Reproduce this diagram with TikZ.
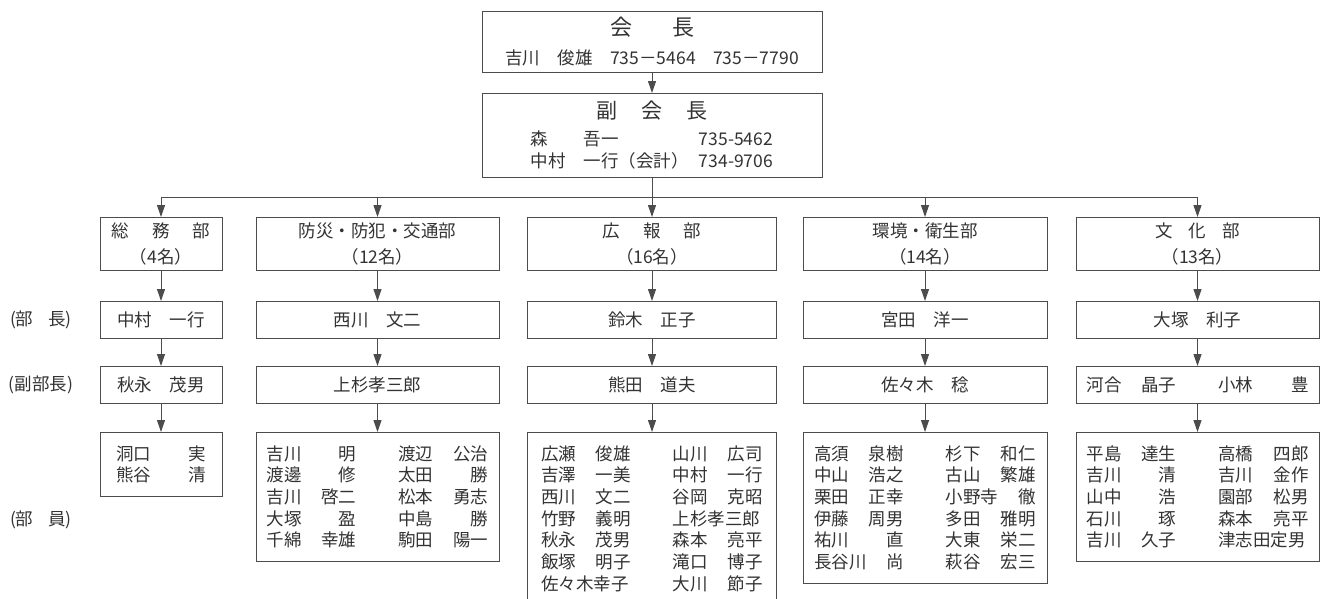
\documentclass[tikz,border=0pt]{standalone}
\usepackage{fontspec}
\setmainfont{Noto Sans CJK JP}
\usetikzlibrary{arrows.meta}
\newcommand\nm[2]{\makebox[90pt][l]{#1\hfill#2}}
\newcommand\gp{\hspace{42pt}}
\begin{document}
\begin{tikzpicture}[x=1pt,y=-1pt,
  box/.style={draw=black!70, line width=1pt, inner sep=0pt, anchor=north, align=center, text=black!80, font=\fontsize{17.5}{26}\selectfont},
  mem/.style={box, align=left, font=\fontsize{17.5}{21.7}\selectfont},
  conn/.style={draw=black!70, line width=1pt},
  arr/.style={conn, -{Triangle[length=12pt,width=8pt]}},
  lbl/.style={text=black!80, font=\fontsize{17.5}{21}\selectfont, inner sep=0pt}
]
\useasboundingbox (0,0) rectangle (1325,598);
\fill[white] (0,0) rectangle (1325,598);

% top
\node[box, minimum width=340, minimum height=61, font=\fontsize{17.5}{29}\selectfont] (pres) at (652,11)
  {{\fontsize{22}{29}\selectfont 会\hspace{40pt}長}\\吉川　俊雄　735－5464　735－7790};
\node[box, minimum width=340, minimum height=84, font=\fontsize{17.5}{22}\selectfont] (vp) at (652,93)
  {{\fontsize{21}{22}\selectfont 副\hspace{24pt}会\hspace{24pt}長}\\[5pt]
   \makebox[53pt][l]{森}\makebox[115pt][l]{吾一}735-5462\\
   \makebox[53pt][l]{中村}\makebox[115pt][l]{一行（会計）}734-9706};

\coordinate (bus) at (652,197);

% departments
\node[box, minimum width=122, minimum height=53] (d1) at (161,217) {総\hspace{23pt}務\hspace{23pt}部\\（4名）};
\node[box, minimum width=243, minimum height=53] (d2) at (377.5,217) {防災・防犯・交通部\\（12名）};
\node[box, minimum width=249, minimum height=53] (d3) at (652,217) {広\hspace{23pt}報\hspace{23pt}部\\（16名）};
\node[box, minimum width=244, minimum height=53] (d4) at (925,217) {環境・衛生部\\（14名）};
\node[box, minimum width=243, minimum height=53] (d5) at (1197.5,217) {文\hspace{16pt}化\hspace{16pt}部\\（13名）};

% heads
\node[box, minimum width=122, minimum height=37] (h1) at (161,301) {中村　一行};
\node[box, minimum width=243, minimum height=37] (h2) at (377.5,301) {西川　文二};
\node[box, minimum width=249, minimum height=37] (h3) at (652,301) {鈴木　正子};
\node[box, minimum width=244, minimum height=37] (h4) at (925,301) {宮田　洋一};
\node[box, minimum width=243, minimum height=37] (h5) at (1197.5,301) {大塚　利子};

% vice heads
\node[box, minimum width=122, minimum height=37] (v1) at (161,366) {秋永　茂男};
\node[box, minimum width=243, minimum height=37] (v2) at (377.5,366) {上杉孝三郎};
\node[box, minimum width=249, minimum height=37] (v3) at (652,366) {熊田　道夫};
\node[box, minimum width=244, minimum height=37] (v4) at (925,366) {佐々木　稔};
\node[box, minimum width=243, minimum height=37] (v5) at (1197.5,366) {\nm{河合}{晶子}\gp\nm{小林}{豊}};

% members
\node[mem, minimum width=122, minimum height=63.7] (m1) at (161,432)
  {\nm{洞口}{実}\\\nm{熊谷}{清}};
\node[mem, minimum width=243, minimum height=128.8] (m2) at (377.5,432)
  {\nm{吉川}{明}\gp\nm{渡辺}{公治}\\
   \nm{渡邊}{修}\gp\nm{太田}{勝}\\
   \nm{吉川}{啓二}\gp\nm{松本}{勇志}\\
   \nm{大塚}{盈}\gp\nm{中島}{勝}\\
   \nm{千綿}{幸雄}\gp\nm{駒田}{陽一}};
\node[mem, minimum width=249, minimum height=172.2] (m3) at (652,432)
  {\nm{広瀬}{俊雄}\gp\nm{山川}{広司}\\
   \nm{吉澤}{一美}\gp\nm{中村}{一行}\\
   \nm{西川}{文二}\gp\nm{谷岡}{克昭}\\
   \nm{竹野}{義明}\gp\nm{上杉孝三郎}{}\\
   \nm{秋永}{茂男}\gp\nm{森本}{亮平}\\
   \nm{飯塚}{明子}\gp\nm{滝口}{博子}\\
   \nm{佐々木幸子}{}\gp\nm{大川}{節子}};
\node[mem, minimum width=244, minimum height=150.5] (m4) at (925,432)
  {\nm{高須}{泉樹}\gp\nm{杉下}{和仁}\\
   \nm{中山}{浩之}\gp\nm{古山}{繁雄}\\
   \nm{栗田}{正幸}\gp\nm{小野寺}{徹}\\
   \nm{伊藤}{周男}\gp\nm{多田}{雅明}\\
   \nm{祐川}{直}\gp\nm{大東}{栄二}\\
   \nm{長谷川}{尚}\gp\nm{萩谷}{宏三}};
\node[mem, minimum width=243, minimum height=128.8] (m5) at (1197.5,432)
  {\nm{平島}{達生}\gp\nm{高橋}{四郎}\\
   \nm{吉川}{清}\gp\nm{吉川}{金作}\\
   \nm{山中}{浩}\gp\nm{園部}{松男}\\
   \nm{石川}{琢}\gp\nm{森本}{亮平}\\
   \nm{吉川}{久子}\gp\nm{津志田定男}{}};

% side labels
\node[lbl] (lb1) at (41,320) {(部\hspace{15pt}長)};
\node[lbl] (lb2) at (41,385) {(副部長)};
\node[lbl] (lb3) at (41,520) {(部\hspace{15pt}員)};

% connectors
\draw[arr] (pres.south) -- (vp.north);
\draw[conn] (vp.south) -- (bus);
\draw[conn] (d1.north |- bus) -- (d5.north |- bus);
\foreach \c in {1,...,5} {
  \draw[arr] (d\c.north |- bus) -- (d\c.north);
  \draw[arr] (d\c.south) -- (h\c.north);
  \draw[arr] (h\c.south) -- (v\c.north);
  \draw[arr] (v\c.south) -- (m\c.north);
}
\end{tikzpicture}
\end{document}
